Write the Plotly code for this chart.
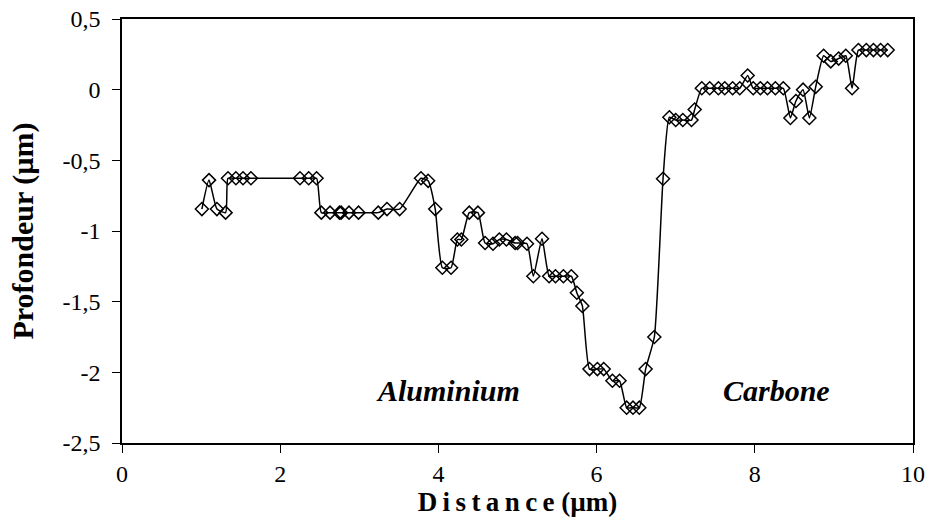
import plotly.graph_objects as go

distance = [1.01, 1.10, 1.20, 1.31, 1.34, 1.44, 1.53, 1.63,
            2.25, 2.36, 2.46, 2.52, 2.63, 2.75, 2.77, 2.87, 2.99,
            3.24, 3.35, 3.51, 3.78, 3.87, 3.96, 4.05, 4.16, 4.24, 4.29,
            4.39, 4.50, 4.59, 4.69, 4.77, 4.86, 4.97, 5.00, 5.12, 5.20,
            5.31, 5.40, 5.48, 5.58, 5.68, 5.75, 5.82, 5.91, 6.01, 6.09,
            6.20, 6.29, 6.38, 6.46, 6.54, 6.62, 6.73, 6.84, 6.92, 7.00,
            7.09, 7.20, 7.24, 7.33, 7.43, 7.54, 7.62, 7.72, 7.81, 7.91,
            7.98, 8.07, 8.16, 8.26, 8.36, 8.45, 8.52, 8.61, 8.69, 8.77,
            8.87, 8.96, 9.06, 9.15, 9.23, 9.31, 9.41, 9.50, 9.59, 9.68]
profondeur = [-0.845, -0.64, -0.845, -0.87, -0.627, -0.627, -0.627, -0.627,
              -0.627, -0.627, -0.627, -0.87, -0.87, -0.87, -0.87, -0.87, -0.87,
              -0.87, -0.845, -0.845, -0.627, -0.645, -0.845, -1.26, -1.26, -1.06, -1.06,
              -0.87, -0.87, -1.085, -1.09, -1.06, -1.06, -1.085, -1.085, -1.09, -1.32,
              -1.055, -1.32, -1.32, -1.32, -1.32, -1.437, -1.53, -1.977, -1.977, -1.977,
              -2.06, -2.06, -2.25, -2.25, -2.25, -1.977, -1.75, -0.63, -0.195, -0.215,
              -0.215, -0.215, -0.14, 0.01, 0.01, 0.01, 0.01, 0.01, 0.01, 0.10,
              0.01, 0.01, 0.01, 0.01, 0.01, -0.2, -0.08, 0.0, -0.2, 0.02,
              0.24, 0.2, 0.22, 0.24, 0.01, 0.28, 0.28, 0.28, 0.28, 0.28]

x_ticks = [0, 2, 4, 6, 8, 10]
y_ticks = [0.5, 0, -0.5, -1, -1.5, -2, -2.5]
y_tick_labels = ["0,5", "0", "-0,5", "-1", "-1,5", "-2", "-2,5"]

labels = ["Aluminium", "Carbone"]
label_x = [4.12, 8.27]
label_y = [-2.125, -2.125]

font = "Liberation Serif"

fig = go.Figure()
fig.add_trace(go.Scatter(
    x=distance, y=profondeur, mode="lines+markers",
    line=dict(color="black", width=1.5, shape="spline", smoothing=0.5),
    marker=dict(symbol="diamond-open", size=10, color="black", line=dict(width=1.5, color="black")),
    showlegend=False,
))

for t, xx, yy in zip(labels, label_x, label_y):
    fig.add_annotation(x=xx, y=yy, text=f"<b><i>{t}</i></b>", showarrow=False,
                       font=dict(family=font, size=30, color="black"))

fig.update_layout(
    width=929, height=524,
    margin=dict(l=122, r=16, t=19, b=81),
    paper_bgcolor="white", plot_bgcolor="white",
    font=dict(family=font, size=24, color="black"),
)
sp = "\u2009"
fig.update_xaxes(
    range=[0, 10], tickvals=x_ticks, ticks="outside", ticklen=8, tickwidth=1, tickcolor="black",
    showline=True, linecolor="black", linewidth=1.5, mirror=True, showgrid=False, zeroline=False,
    title=dict(text="<b>" + sp.join("Distance") + " (µm)</b>", font=dict(family=font, size=27), standoff=2),
    tickfont=dict(family=font, size=24), automargin=False, ticklabeloverflow="allow",
)
fig.update_yaxes(
    range=[-2.5, 0.5], tickvals=y_ticks, ticktext=y_tick_labels, ticks="outside", ticklen=8,
    tickwidth=1, tickcolor="black",
    showline=True, linecolor="black", linewidth=1.5, mirror=True, showgrid=False, zeroline=False,
    title=dict(text="<b>Profondeur (µm)</b>", font=dict(family=font, size=30), standoff=20),
    tickfont=dict(family=font, size=24), ticklabelstandoff=7, automargin=False,
    ticklabeloverflow="allow",
)

fig.write_html("out.html", config={"displayModeBar": False},
               post_script="document.body.style.margin='0';document.body.style.overflow='hidden';")
